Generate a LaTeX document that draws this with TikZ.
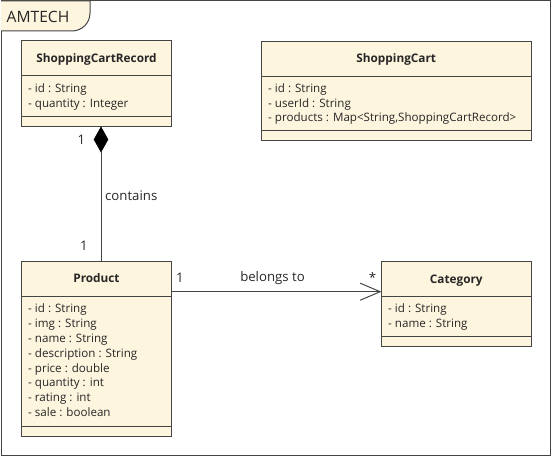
\documentclass[tikz,border=0pt]{standalone}
\usepackage{fontspec}
\setmainfont{Open Sans}
\usetikzlibrary{arrows.meta,shapes.geometric}
\definecolor{fillc}{HTML}{FEF5DF}
\definecolor{linec}{HTML}{454545}
\definecolor{txtc}{HTML}{262626}
\begin{document}
\begin{tikzpicture}[x=1pt,y=-1pt,
  cls/.style={draw=linec, fill=fillc, line width=1pt, anchor=north west, inner sep=0pt, outer sep=0pt},
  divider/.style={draw=linec, line width=1pt},
  title/.style={font=\bfseries\fontsize{11.8}{13}\selectfont, anchor=base, inner sep=0pt, text=txtc},
  attr/.style={font=\fontsize{11.6}{13}\selectfont, anchor=base west, inner sep=0pt, text=txtc},
  lbl/.style={font=\fontsize{13.2}{15}\selectfont, anchor=base, inner sep=0pt, text=txtc},
  conn/.style={draw=linec, line width=1pt}]
\useasboundingbox (0,0) rectangle (552,457);
% frame
\draw[linec, line width=1pt] (1,1) rectangle (550,455);
\draw[linec, fill=fillc, line width=1pt] (1,1) -- (90,1) -- (90,13) .. controls (90,23) and (82,31) .. (72,31) -- (1,31);
\node[font=\fontsize{15.6}{17}\selectfont, anchor=base west, inner sep=0pt, text=txtc] (frametitle) at (6.5,22.7) {AMTECH};
% ShoppingCartRecord
\node[cls, minimum width=150pt, minimum height=86pt] (scr) at (21.5,41) {};
\draw[divider] (scr.west |- 0,76) -- (scr.east |- 0,76);
\draw[divider] (scr.west |- 0,116.7) -- (scr.east |- 0,116.7);
\node[title] (scrT) at (scr.north |- 0,63) {ShoppingCartRecord};
\node[attr] (scrA1) at (28,92.5) {- id : String};
\node[attr] (scrA2) at (28,107.3) {- quantity : Integer};
% ShoppingCart
\node[cls, minimum width=270.5pt, minimum height=99.5pt] (sc) at (261,41.5) {};
\draw[divider] (sc.west |- 0,76.7) -- (sc.east |- 0,76.7);
\draw[divider] (sc.west |- 0,131) -- (sc.east |- 0,131);
\node[title] (scT) at (sc.north |- 0,62.7) {ShoppingCart};
\node[attr] (scA1) at (268,92.3) {- id : String};
\node[attr] (scA2) at (268,107.1) {- userId : String};
\node[attr] (scA3) at (268,121.9) {- products : Map<String,ShoppingCartRecord>};
% Product
\node[cls, minimum width=150pt, minimum height=174.5pt] (prod) at (21.5,261.5) {};
\draw[divider] (prod.west |- 0,296.7) -- (prod.east |- 0,296.7);
\draw[divider] (prod.west |- 0,426) -- (prod.east |- 0,426);
\node[title] (prodT) at (prod.north |- 0,282.3) {Product};
\node[attr] (pA1) at (28,312.7) {- id : String};
\node[attr] (pA2) at (28,327.55) {- img : String};
\node[attr] (pA3) at (28,342.4) {- name : String};
\node[attr] (pA4) at (28,357.25) {- description : String};
\node[attr] (pA5) at (28,372.1) {- price : double};
\node[attr] (pA6) at (28,386.95) {- quantity : int};
\node[attr] (pA7) at (28,401.8) {- rating : int};
\node[attr] (pA8) at (28,416.65) {- sale : boolean};
% Category
\node[cls, minimum width=149.5pt, minimum height=85pt] (cat) at (381.5,261.5) {};
\draw[divider] (cat.west |- 0,296.7) -- (cat.east |- 0,296.7);
\draw[divider] (cat.west |- 0,336.7) -- (cat.east |- 0,336.7);
\node[title] (catT) at (cat.north |- 0,283.3) {Category};
\node[attr] (cA1) at (388,312.3) {- id : String};
\node[attr] (cA2) at (388,327.1) {- name : String};
% composition
\node[diamond, fill=black, draw=black, line width=0.5pt, minimum width=14pt, minimum height=25pt, inner sep=0pt, outer sep=0pt, anchor=north] (dia) at (101,127) {};
\draw[conn] (dia.south) -- (dia.south |- prod.north);
\node[lbl] (m1) at (81.5,145) {1};
\node[lbl] (m2) at (84,251) {1};
\node[lbl, anchor=base west] (contains) at (105,201) {contains};
% association
\draw[conn, -{Straight Barb[length=20pt,width=17pt]}] (prod.east |- 0,291.7) -- (cat.west |- 0,291.7);
\node[lbl] (m3) at (180,282.3) {1};
\node[lbl] (belongs) at (272.5,281.7) {belongs to};
\node[lbl] (m4) at (372.5,283) {*};
\end{tikzpicture}
\end{document}
